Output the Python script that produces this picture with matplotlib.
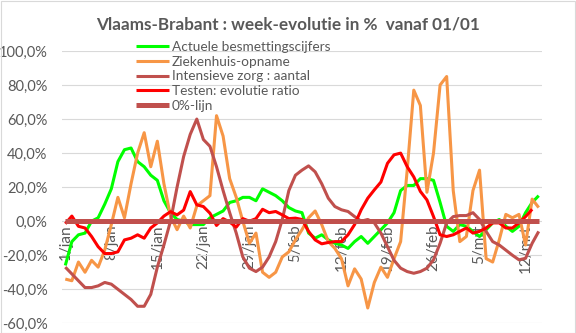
import numpy as np
import matplotlib
matplotlib.use('Agg')
import matplotlib.pyplot as plt
from matplotlib.ticker import FuncFormatter
from matplotlib.patches import Rectangle

# === Data (week-evolutie in %, per dag vanaf 01/01) ===
days = np.arange(73)
tick_days = [0, 7, 14, 21, 28, 35, 42, 49, 56, 63, 70]
tick_labels = ['1/jan', '8/jan', '15/jan', '22/jan', '29/jan', '5/feb',
               '12/feb', '19/feb', '26/feb', '5/mrt', '12/mrt']

besmettingen = [-26, -12, -8, -7, 0, 2, 10, 19, 35, 42, 43, 35, 32, 27, 24, 12,
                5, 1, 0, -2, -2, -2, 2, 4, 6, 11, 12, 14, 14, 12, 19, 17, 15, 12,
                8, 6, 5, -7, -10, -8, -11, -13, -14, -16, -12, -9, -13, -9, -5,
                -1, 5, 18, 21, 21, 25, 25, 24, 11, -3, -6, -2, -3, -6, -9, -5,
                -1, 1, -3, -6, -3, 5, 11, 15]
ziekenhuis = [-34, -35, -24, -30, -23, -27, -17, -2, 14, 2, 22, 40, 52, 32, 47,
              22, 3, -5, 3, -4, 9, 12, 15, 62, 50, 25, 14, 0, -13, -7, -30, -33,
              -30, -21, -18, -11, -5, 2, 6, -2, -12, -16, -22, -38, -28, -34,
              -51, -36, -27, -33, -22, -12, 30, 77, 68, 17, 40, 80, 85, 18, -12,
              -9, 18, 30, -22, -24, -11, 4, 2, 4, -14, 13, 8]
intensieve_zorg = [-27, -31, -35, -39, -39, -38, -36, -37, -40, -43, -46, -50,
                   -50, -43, -27, -14, 0, 20, 38, 51, 60, 48, 44, 32, 18, 5, -7,
                   -21, -27.6, -29.6, -27, -21, -12, 1, 18, 27, 30, 32.5, 29, 22,
                   13.5, 8.6, 6.7, 5.7, 2.7, 0, 1, -1, -7, -15, -23, -27.6, -29.6,
                   -30.6, -29.6, -27.6, -22.7, -13, -1, 2.7, 3.3, 3.3, 5, 1, -6,
                   -12, -14, -17, -20, -22.7, -21.8, -13, -6]
testen = [-1.5, 3, -3, -4, -9, -15, -19, -19, -18, -11, -10, -8, -10, -4, -1, 3,
          5.6, 3.7, 6.5, 17.4, 9.6, 8.6, 4.7, -2.5, 1.5, -0.5, -3.5, 1.5, 0, 1.5,
          7, 5, 5.7, 3.7, 1.5, 1.8, 1, -6, -11, -13.3, -12.5, -12, -12, -8, -2,
          6.7, 13.5, 18.4, 23, 34, 39, 40, 32, 26, 17.5, 12.5, 2.7, -8, -9, -8,
          -6, -4, -7, -6, -4, -1, -1, -4, -4, -1, 2.7, 7, np.nan]
nul_lijn = [0] * 73

series = [
    ('Actuele besmettingscijfers', besmettingen, '#00FF00', 2.2),
    ('Ziekenhuis-opname', ziekenhuis, '#F79646', 2.2),
    ('Intensieve zorg : aantal', intensieve_zorg, '#C0504D', 2.2),
    ('Testen: evolutie ratio', testen, '#FF0000', 2.2),
    ('0%-lijn', nul_lijn, '#C0504D', 3.6),
]

plt.rcParams['font.family'] = ['Lato', 'DejaVu Sans']
txt_color = '#595959'

# === Plotting ===
fig = plt.figure(figsize=(5.76, 3.33), dpi=100)
ax = fig.add_axes([62 / 576, 1 - 323.3 / 333, 480 / 576, 272.3 / 333])

for i, (label, vals, col, lw) in enumerate(series):
    ax.plot(days, vals, color=col, lw=lw, label=label, solid_capstyle='butt',
            zorder=3 + i)

ax.set_xlim(-0.5, 72.5)
ax.set_ylim(-60, 100)
ax.set_yticks(range(-60, 101, 20))
ax.yaxis.set_major_formatter(FuncFormatter(lambda v, p: f'{v:.1f}%'.replace('.', ',')))
ax.grid(axis='y', color='#D9D9D9', lw=0.8)
ax.set_axisbelow(True)

for s in ['top', 'right', 'left', 'bottom']:
    ax.spines[s].set_visible(False)

ax.set_xticks(tick_days)
ax.set_xticklabels(tick_labels, rotation=90)
# category labels sit just under the 0% axis, like Excel
for lab in ax.get_xticklabels():
    lab.set_y(0.375 - 0.012)
ax.tick_params(axis='x', length=0, pad=0, labelsize=11, colors=txt_color)
ax.tick_params(axis='y', length=0, pad=10.5, labelsize=10.5, colors=txt_color)

ax.legend(loc='upper left', bbox_to_anchor=(136 / 576, 1 - 41 / 333),
          bbox_transform=fig.transFigure, frameon=False, fontsize=9.8,
          labelcolor=txt_color, handlelength=2.4, handletextpad=0.25,
          labelspacing=0.2, borderpad=0, borderaxespad=0)

fig.text(0.5, 1 - 25 / 333, 'Vlaams-Brabant : week-evolutie in %  vanaf 01/01',
         ha='center', va='center', fontsize=12.3, fontweight='bold', color=txt_color)

# chart border
fig.patches.append(Rectangle((0.001, 0.001), 0.997, 0.997, transform=fig.transFigure,
                             fill=False, edgecolor='#D9D9D9', lw=0.8))

fig.savefig('out.png', dpi=100)
